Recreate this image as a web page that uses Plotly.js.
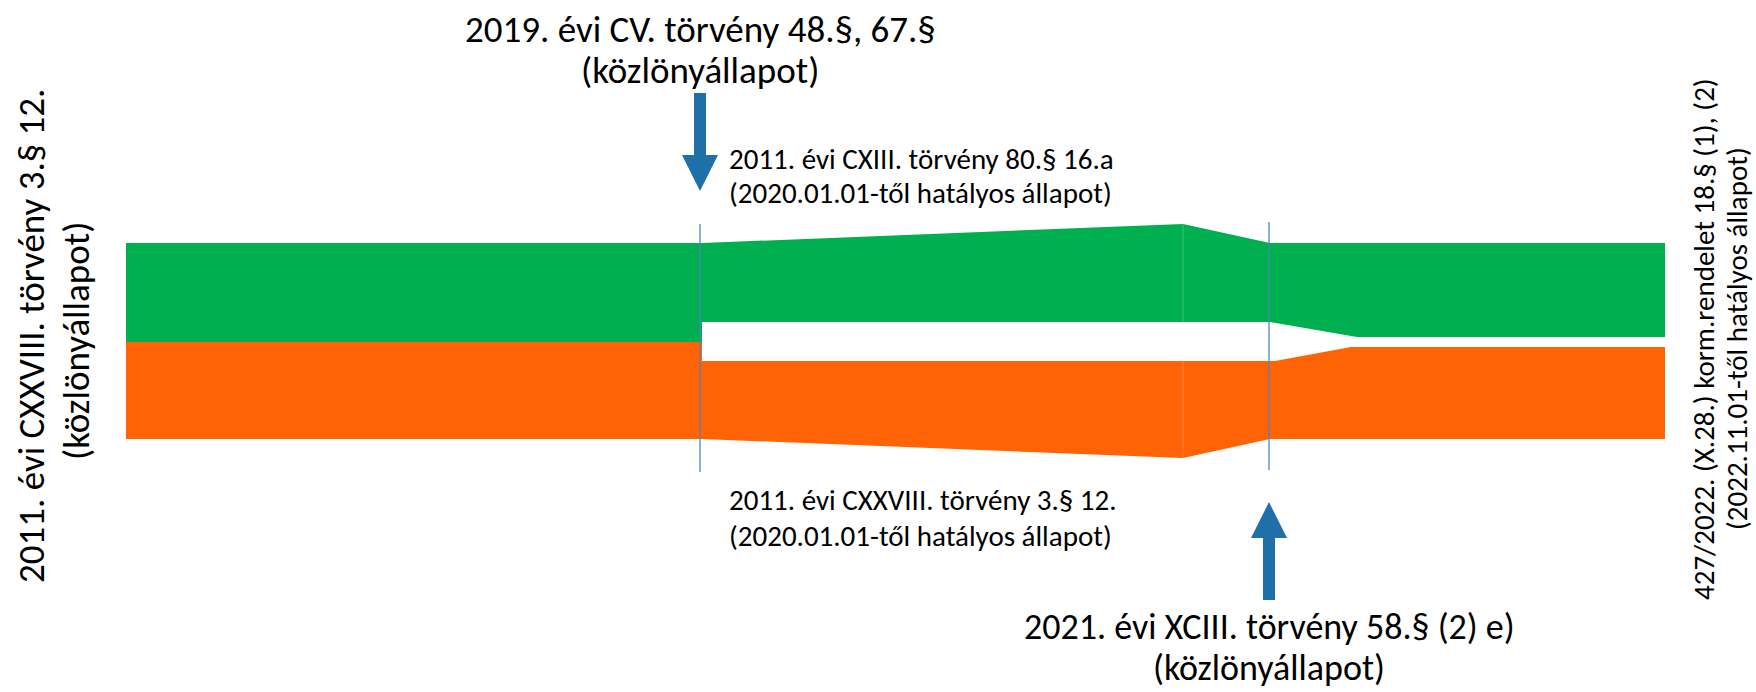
<!DOCTYPE html>
<html>
<head>
<meta charset="utf-8">
<script src="https://cdn.plot.ly/plotly-3.0.1.min.js"></script>
<style>html,body{margin:0;padding:0;background:#fff;}#chart{width:1756px;height:692px;}</style>
</head>
<body>
<div id="chart"></div>
<script>
// ---- data (diagram units) ----
const greenTopX = [126, 702, 1183, 1270, 1665];
const greenTopY = [243, 243, 224, 243, 243];
const greenBotX = [126, 702, 702, 1270, 1357, 1665];
const greenBotY = [342, 342, 322, 322, 337, 337];
const orangeTopX = [126, 702, 702, 1275, 1351, 1665];
const orangeTopY = [342, 342, 361, 361, 347, 347];
const orangeBotX = [126, 702, 1183, 1270, 1665];
const orangeBotY = [439, 439, 458, 439, 439];

const seamX = 1183;
const seamGreenY = [224, 322];
const seamOrangeY = [361, 458];

const changeX = [700, 1269];          // amendment dates
const changeLineY = [[224, 472], [222, 470]];

const arrowX = [700, 1269];
const arrowTail = [93, 600];
const arrowTip = [191, 502];

const topLabel = ["2019. évi CV. törvény 48.§, 67.§", "(közlönyállapot)"];
const bottomLabel = ["2021. évi XCIII. törvény 58.§ (2) e)", "(közlönyállapot)"];
const upperNote = ["2011. évi CXIII. törvény 80.§ 16.a", "(2020.01.01-től hatályos állapot)"];
const lowerNote = ["2011. évi CXXVIII. törvény 3.§ 12.", "(2020.01.01-től hatályos állapot)"];
const leftLabel = ["2011. évi CXXVIII. törvény 3.§ 12.", "(közlönyállapot)"];
const rightLabel = ["427/2022. (X.28.) korm.rendelet 18.§ (1), (2)", "(2022.11.01-től hatályos állapot)"];

// ---- styling ----
const GREEN = "#00B050", ORANGE = "#FF6305", BLUE = "#1F6FA8", LINE = "#4F86BE";
const FONT = "Carlito, Calibri, Lato, sans-serif";
const BIG = 37, SMALL = 29;

function band(topX, topY, botX, botY, color) {
  return {
    type: "scatter", mode: "lines",
    x: topX.concat(botX.slice().reverse()).concat([topX[0]]),
    y: topY.concat(botY.slice().reverse()).concat([topY[0]]),
    fill: "toself", fillcolor: color, line: {width: 0, color: color},
    hoverinfo: "skip"
  };
}
function arrow(cx, tail, tip, color) {
  const dir = Math.sign(tip - tail);
  const headLen = 36, shaftW = 6, headW = 18;
  const base = tip - dir * headLen;
  return {
    type: "scatter", mode: "lines",
    x: [cx - shaftW, cx + shaftW, cx + shaftW, cx + headW, cx, cx - headW, cx - shaftW, cx - shaftW],
    y: [tail, tail, base, base, tip, base, base, tail],
    fill: "toself", fillcolor: color, line: {width: 0, color: color}, hoverinfo: "skip"
  };
}

const traces = [
  band(greenTopX, greenTopY, greenBotX, greenBotY, GREEN),
  band(orangeTopX, orangeTopY, orangeBotX, orangeBotY, ORANGE),
  {type: "scatter", mode: "lines", x: [seamX, seamX], y: seamGreenY,
   line: {color: "rgba(255,255,255,0.22)", width: 1}, hoverinfo: "skip"},
  {type: "scatter", mode: "lines", x: [seamX, seamX], y: seamOrangeY,
   line: {color: "rgba(255,255,255,0.22)", width: 1}, hoverinfo: "skip"}
];
changeX.forEach((cx, i) => traces.push({
  type: "scatter", mode: "lines", x: [cx, cx], y: changeLineY[i],
  line: {color: LINE, width: 1.3}, hoverinfo: "skip"
}));
arrowX.forEach((cx, i) => traces.push(arrow(cx, arrowTail[i], arrowTip[i], BLUE)));

function ann(text, x, y, size, opts) {
  return Object.assign({
    text: text, x: x, y: y, xref: "x", yref: "y", showarrow: false,
    xanchor: "center", yanchor: "middle",
    font: {family: FONT, size: size, color: "#000"}
  }, opts || {});
}
const annotations = [
  ann(topLabel[0], 700, 29, BIG),
  ann(topLabel[1], 700, 70, BIG),
  ann(bottomLabel[0], 1269, 627, 36),
  ann(bottomLabel[1], 1269, 692, 36, {yanchor: "bottom"}),
  ann(upperNote[0], 727, 159, SMALL, {xanchor: "left"}),
  ann(upperNote[1], 727, 193, SMALL, {xanchor: "left"}),
  ann(lowerNote[0], 727, 500, SMALL, {xanchor: "left"}),
  ann(lowerNote[1], 727, 536, SMALL, {xanchor: "left"}),
  ann(leftLabel[0], 31, 336, BIG, {textangle: -90}),
  ann(leftLabel[1], 76, 341, BIG, {textangle: -90}),
  ann(rightLabel[0], 1704, 339, SMALL, {textangle: -90}),
  ann(rightLabel[1], 1737, 339, SMALL, {textangle: -90})
];

const layout = {
  width: 1756, height: 692,
  margin: {l: 0, r: 0, t: 0, b: 0, pad: 0},
  paper_bgcolor: "#fff", plot_bgcolor: "#fff",
  showlegend: false,
  xaxis: {range: [0, 1756], visible: false, fixedrange: true},
  yaxis: {range: [692, 0], visible: false, fixedrange: true},
  annotations: annotations
};
Plotly.newPlot("chart", traces, layout, {staticPlot: true, displayModeBar: false});
</script>
</body>
</html>
